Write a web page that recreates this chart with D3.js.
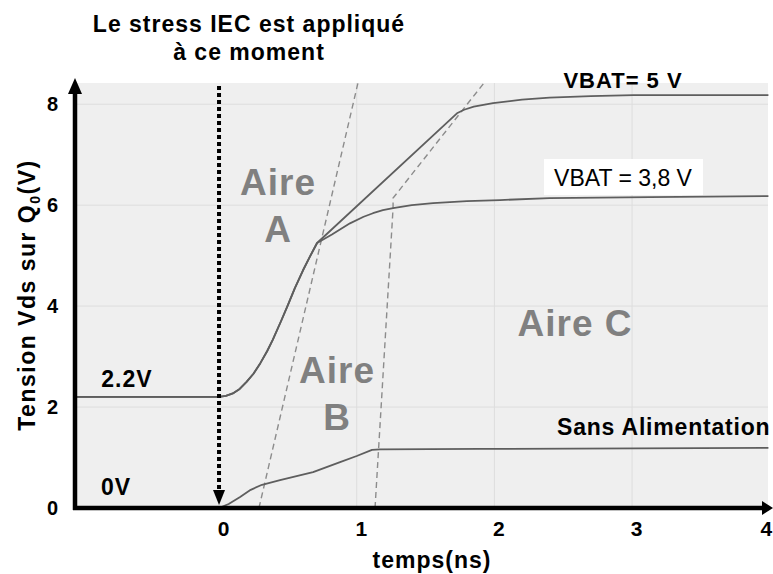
<!DOCTYPE html>
<html>
<head>
<meta charset="utf-8">
<script src="https://cdn.jsdelivr.net/npm/d3@7"></script>
<style>
  html, body { margin: 0; padding: 0; background: #fff; }
  svg { display: block; font-family: "Liberation Sans", Arial, sans-serif; }
</style>
</head>
<body>
<svg id="chart" width="773" height="574"></svg>
<script>
// Vds on Q0 (V) versus time (ns) for three supply conditions
const vbat5 = [
  [-1.046, 2.2], [0, 2.2], [0.05, 2.22], [0.10, 2.27], [0.15, 2.36], [0.20, 2.50],
  [0.25, 2.66], [0.30, 2.87], [0.35, 3.11], [0.39, 3.33], [0.45, 3.70], [0.50, 4.02],
  [0.55, 4.35], [0.61, 4.71], [0.66, 4.98], [0.712, 5.25], [1.728, 7.82],
  [1.78, 7.89], [1.85, 7.95], [1.99, 8.02], [2.20, 8.09], [2.40, 8.13],
  [2.70, 8.16], [3.01, 8.18], [3.99, 8.18]
];
const vbat38 = [
  [-1.046, 2.2], [0, 2.2], [0.05, 2.22], [0.10, 2.27], [0.15, 2.36], [0.20, 2.50],
  [0.25, 2.66], [0.30, 2.87], [0.35, 3.11], [0.39, 3.33], [0.45, 3.70], [0.50, 4.02],
  [0.55, 4.35], [0.61, 4.71], [0.66, 4.98], [0.712, 5.25], [0.82, 5.42],
  [0.951, 5.64], [1.05, 5.77], [1.118, 5.84], [1.19, 5.90], [1.264, 5.94],
  [1.40, 6.00], [1.554, 6.04], [1.80, 6.08], [2.04, 6.10], [2.40, 6.14],
  [3.13, 6.16], [3.99, 6.18]
];
const sansAlim = [
  [-1.046, 0], [0, 0], [0.07, 0.08], [0.153, 0.22], [0.23, 0.36], [0.312, 0.46],
  [0.443, 0.55], [0.683, 0.71], [0.879, 0.91], [1.00, 1.03], [1.111, 1.15],
  [1.169, 1.16], [1.895, 1.17], [3.99, 1.19]
];
// construction lines bounding the areas
const tangentAB = [[0.29, 0], [1.009, 8.42]];
const tangentBC = [[1.133, 0], [1.264, 5.94], [1.264, 6.14], [1.924, 8.42]];

const xTicks = [0, 1, 2, 3, 4];
const yTicks = [0, 2, 4, 6, 8];
const xGrid = [1, 2, 3];
const yGrid = [2, 4, 6, 8];

const svg = d3.select("#chart");
const x = d3.scaleLinear().domain([-1.046, 4]).range([75, 769.8]);
const y = d3.scaleLinear().domain([0, 8.42]).range([508, 83]);

// plot background
svg.append("rect")
  .attr("x", 77).attr("y", y(8.42))
  .attr("width", 768 - 77).attr("height", y(0) - y(8.42))
  .attr("fill", "#efefef");

// grid
svg.append("g").selectAll("line").data(yGrid).join("line")
  .attr("x1", 77).attr("x2", 768)
  .attr("y1", d => y(d)).attr("y2", d => y(d))
  .attr("stroke", "#dddddd").attr("stroke-width", 1);
svg.append("g").selectAll("line").data(xGrid).join("line")
  .attr("x1", d => x(d)).attr("x2", d => x(d))
  .attr("y1", y(8.42)).attr("y2", y(0))
  .attr("stroke", "#dddddd").attr("stroke-width", 1);

const line = d3.line().x(d => x(d[0])).y(d => y(d[1]));

// dashed construction lines
[tangentAB, tangentBC].forEach(pts => {
  svg.append("path").attr("d", line(pts))
    .attr("fill", "none").attr("stroke", "#8c8c8c")
    .attr("stroke-width", 1.4).attr("stroke-dasharray", "6,4");
});

// curves
[vbat5, vbat38, sansAlim].forEach(pts => {
  svg.append("path").attr("d", line(pts))
    .attr("fill", "none").attr("stroke", "#5e5e5e")
    .attr("stroke-width", 1.8).attr("stroke-linejoin", "round");
});

// stress instant marker
const x0 = x(0);
svg.append("line")
  .attr("x1", x0).attr("x2", x0).attr("y1", 86).attr("y2", 490)
  .attr("stroke", "#000").attr("stroke-width", 4).attr("stroke-dasharray", "4,3");
svg.append("path")
  .attr("d", `M${x0 - 6},490 L${x0 + 6},490 L${x0},505 Z`)
  .attr("fill", "#000");

// axes with arrows
svg.append("line").attr("x1", 75).attr("x2", 75).attr("y1", 510).attr("y2", 92)
  .attr("stroke", "#000").attr("stroke-width", 4.5);
svg.append("path").attr("d", "M75,78 L68,94 L82,94 Z").attr("fill", "#000");
svg.append("line").attr("x1", 73).attr("x2", 764).attr("y1", 508).attr("y2", 508)
  .attr("stroke", "#000").attr("stroke-width", 4.5);
svg.append("path").attr("d", "M773,508 L762,501 L762,515 Z").attr("fill", "#000");

// tick labels
const yAxis = svg.append("g").attr("transform", "translate(75,0)")
  .call(d3.axisLeft(y).tickValues(yTicks).tickFormat(d3.format("d")).tickSize(0).tickPadding(17));
yAxis.select(".domain").remove();
yAxis.selectAll("text").attr("font-size", 20).attr("font-weight", "bold")
  .attr("font-family", "Liberation Sans, Arial, sans-serif").attr("fill", "#000");

const xAxis = svg.append("g").attr("transform", "translate(0,508)")
  .call(d3.axisBottom(x).tickValues(xTicks).tickFormat(d3.format("d")).tickSize(0).tickPadding(13));
xAxis.select(".domain").remove();
xAxis.selectAll("text").attr("font-size", 21).attr("font-weight", "bold")
  .attr("dx", d => d === 4 ? -4 : 4)
  .attr("font-family", "Liberation Sans, Arial, sans-serif").attr("fill", "#000");

// text helper
function label(txt, cx, by, opts = {}) {
  return svg.append("text")
    .attr("x", cx).attr("y", by)
    .attr("text-anchor", opts.anchor || "middle")
    .attr("font-size", opts.size || 23)
    .attr("font-weight", opts.weight || "bold")
    .attr("letter-spacing", opts.ls == null ? 1 : opts.ls)
    .attr("fill", opts.fill || "#000")
    .text(txt);
}

label("Le stress IEC est appliqué", 249, 32);
label("à ce moment", 249, 60);

label("VBAT= 5 V", 623, 88, { size: 22 });
svg.append("rect").attr("x", 544).attr("y", 159).attr("width", 159).attr("height", 36).attr("fill", "#fff");
label("VBAT = 3,8 V", 623, 186, { weight: "normal", ls: 0 });

label("2.2V", 127, 387);
label("0V", 116, 495);
label("Sans Alimentation", 557, 435, { anchor: "start", ls: 0.8 });

const grey = "#808080";
label("Aire", 278, 195, { size: 37, fill: grey });
label("A", 278, 242, { size: 37, fill: grey });
label("Aire", 337, 383, { size: 37, fill: grey });
label("B", 337, 430, { size: 37, fill: grey });
label("Aire C", 575, 336, { size: 37, fill: grey });

// axis titles
label("temps(ns)", 432, 568, { size: 23 });

const yt = svg.append("text")
  .attr("transform", "translate(35,295) rotate(-90)")
  .attr("text-anchor", "middle")
  .attr("font-size", 23).attr("font-weight", "bold").attr("letter-spacing", 1.5);
yt.append("tspan").text("Tension Vds sur Q");
yt.append("tspan").attr("font-size", 14).attr("dy", 5).text("0");
yt.append("tspan").attr("dy", -5).text("(V)");
</script>
</body>
</html>
